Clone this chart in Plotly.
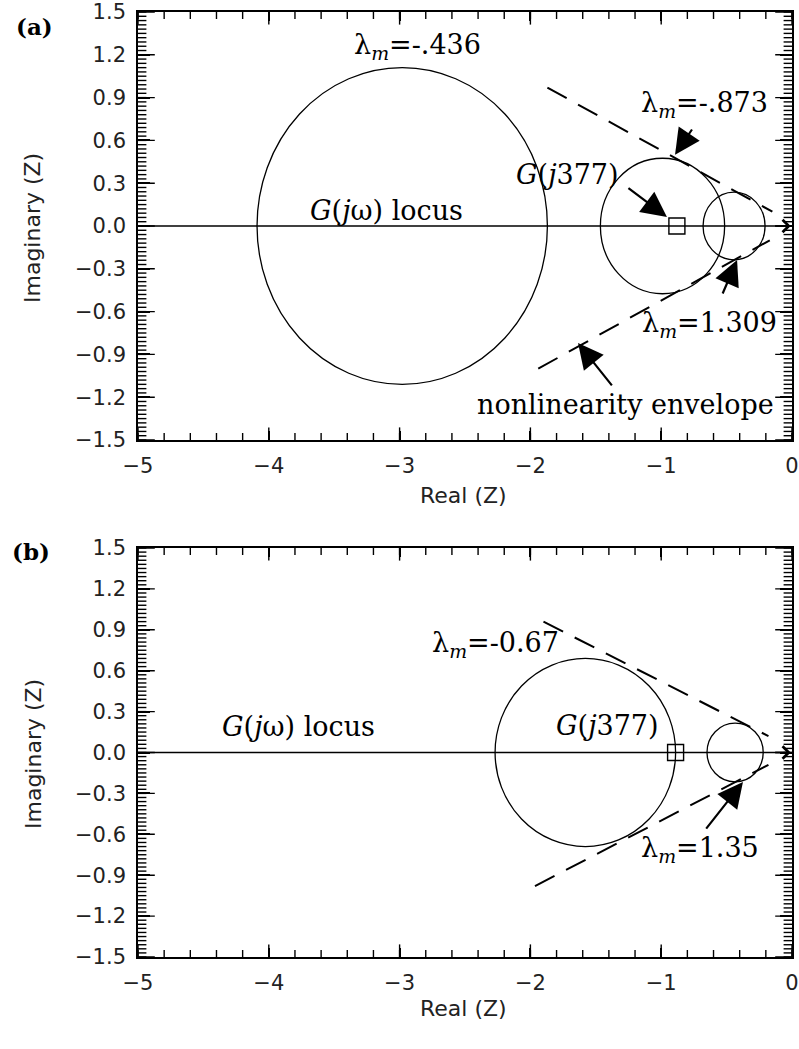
import plotly.graph_objects as go

# ---------------- data ----------------
X_RANGE = [-5, 0]
Y_RANGE = [-1.5, 1.5]
X_TICKS = [-5, -4, -3, -2, -1, 0]
Y_TICKS = [-1.5, -1.2, -0.9, -0.6, -0.3, 0.0, 0.3, 0.6, 0.9, 1.2, 1.5]
X_MINOR_STEP = 0.2
Y_MINOR_STEP = 0.03

LOCUS_X = [-5.0, -0.04]
LOCUS_Y = [0.0, 0.0]

# panel (a)
A_CIRCLE_CX = [-2.98, -0.99, -0.443]
A_CIRCLE_CY = [0.0, 0.0, 0.0]
A_CIRCLE_R = [1.11, 0.475, 0.237]
A_ENV_UP_X = [-1.87, -0.15]
A_ENV_UP_Y = [0.97, 0.10]
A_ENV_LO_X = [-1.94, -0.17]
A_ENV_LO_Y = [-1.00, -0.10]
A_G377_X = [-0.88]
A_G377_Y = [0.0]
A_LAMBDAS = ["-.436", "-.873", "1.309"]

# panel (b)
B_CIRCLE_CX = [-1.58, -0.435]
B_CIRCLE_CY = [0.0, 0.0]
B_CIRCLE_R = [0.69, 0.215]
B_ENV_UP_X = [-1.90, -0.18]
B_ENV_UP_Y = [0.96, 0.12]
B_ENV_LO_X = [-1.965, -0.18]
B_ENV_LO_Y = [-0.98, -0.09]
B_G377_X = [-0.89]
B_G377_Y = [0.0]
B_LAMBDAS = ["-0.67", "1.35"]

# minor tick positions derived from the axis ranges
X_MINOR = [round(X_RANGE[0] + X_MINOR_STEP * i, 4)
           for i in range(int(round((X_RANGE[1] - X_RANGE[0]) / X_MINOR_STEP)) + 1)]
Y_MINOR = [round(Y_RANGE[0] + Y_MINOR_STEP * i, 4)
           for i in range(int(round((Y_RANGE[1] - Y_RANGE[0]) / Y_MINOR_STEP)) + 1)]

# ---------------- styling ----------------
TICK_FONT = dict(family="DejaVu Sans", size=21, color="#222")
TITLE_FONT = dict(family="DejaVu Sans", size=22, color="#222")
SERIF = dict(family="DejaVu Serif", size=27, color="black")

fig = go.Figure()

def tick_marks(xa, ya):
    # inward tick marks on all four sides (half of each marker is clipped by the frame)
    specs = [
        (X_TICKS, "line-ns-open", 18, "x"),
        (X_MINOR, "line-ns-open", 10, "x"),
        (Y_TICKS, "line-ew-open", 24, "y"),
        (Y_MINOR, "line-ew-open", 12, "y"),
    ]
    for vals, sym, size, kind in specs:
        for edge in (0, 1):
            if kind == "x":
                xs = vals
                ys = [Y_RANGE[edge]] * len(vals)
            else:
                xs = [X_RANGE[edge]] * len(vals)
                ys = vals
            fig.add_trace(go.Scatter(x=xs, y=ys, mode="markers", cliponaxis=True,
                                     marker=dict(symbol=sym, size=size, color="black",
                                                 line=dict(width=1.4, color="black")),
                                     xaxis=xa, yaxis=ya, showlegend=False,
                                     hoverinfo="skip"))

def add_panel(xa, ya, cxs, cys, rs, upx, upy, lox, loy, gx, gy):
    fig.add_trace(go.Scatter(x=LOCUS_X, y=LOCUS_Y, mode="lines",
                             line=dict(color="black", width=1.6),
                             xaxis=xa, yaxis=ya, showlegend=False, hoverinfo="skip"))
    for ex, ey in ((upx, upy), (lox, loy)):
        fig.add_trace(go.Scatter(x=ex, y=ey, mode="lines",
                                 line=dict(color="black", width=2, dash="22px,13px"),
                                 xaxis=xa, yaxis=ya, showlegend=False, hoverinfo="skip"))
    fig.add_trace(go.Scatter(x=gx, y=gy, mode="markers",
                             marker=dict(symbol="square-open", size=16,
                                         color="black", line=dict(width=1.4, color="black")),
                             xaxis=xa, yaxis=ya, showlegend=False, hoverinfo="skip"))
    tick_marks(xa, ya)
    xr = "x" if xa == "x" else "x2"
    yr = "y" if ya == "y" else "y2"
    for cx, cy, r in zip(cxs, cys, rs):
        fig.add_shape(type="circle", xref=xr, yref=yr, layer="below",
                      x0=cx - r, x1=cx + r, y0=cy - r, y1=cy + r,
                      line=dict(color="black", width=1.3))
    # arrow at end of locus
    fig.add_annotation(x=LOCUS_X[1] + 0.03, y=0, ax=LOCUS_X[1] - 0.1, ay=0,
                       xref=xr, yref=yr, axref=xr, ayref=yr, text="",
                       showarrow=True, arrowhead=4, arrowsize=1.6, arrowwidth=1.5,
                       arrowcolor="black")

add_panel("x", "y", A_CIRCLE_CX, A_CIRCLE_CY, A_CIRCLE_R,
          A_ENV_UP_X, A_ENV_UP_Y, A_ENV_LO_X, A_ENV_LO_Y, A_G377_X, A_G377_Y)
add_panel("x2", "y2", B_CIRCLE_CX, B_CIRCLE_CY, B_CIRCLE_R,
          B_ENV_UP_X, B_ENV_UP_Y, B_ENV_LO_X, B_ENV_LO_Y, B_G377_X, B_G377_Y)

def lam(v):
    return "λ<sub><i>m</i></sub>=" + v

def text(x, y, t, xr, yr):
    fig.add_annotation(x=x, y=y, xref=xr, yref=yr, text=t, showarrow=False,
                       font=SERIF, xanchor="center", yanchor="middle")

def arrow(hx, hy, tx, ty, xr, yr):
    fig.add_annotation(x=hx, y=hy, ax=tx, ay=ty, xref=xr, yref=yr, axref=xr, ayref=yr,
                       text="", showarrow=True, arrowhead=2, arrowsize=2.3,
                       arrowwidth=2.2, arrowcolor="black")

# panel (a) texts
text(-2.86, 1.26, lam(A_LAMBDAS[0]), "x", "y")
text(-0.67, 0.85, lam(A_LAMBDAS[1]), "x", "y")
text(-1.72, 0.36, "<i>G</i>(<i>j</i>377)", "x", "y")
text(-3.10, 0.11, "<i>G</i>(<i>j</i>ω) locus", "x", "y")
text(-0.63, -0.69, lam(A_LAMBDAS[2]), "x", "y")
text(-1.27, -1.25, "nonlinearity envelope", "x", "y")
arrow(-0.894, 0.50, -0.757, 0.687, "x", "y")
arrow(-0.956, 0.063, -1.262, 0.273, "x", "y")
arrow(-0.42, -0.238, -0.535, -0.484, "x", "y")
arrow(-1.636, -0.82, -1.368, -1.128, "x", "y")

# panel (b) texts
text(-2.27, 0.79, lam(B_LAMBDAS[0]), "x2", "y2")
text(-1.41, 0.20, "<i>G</i>(<i>j</i>377)", "x2", "y2")
text(-0.70, -0.71, lam(B_LAMBDAS[1]), "x2", "y2")
text(-3.77, 0.19, "<i>G</i>(<i>j</i>ω) locus", "x2", "y2")
arrow(-0.375, -0.216, -0.665, -0.569, "x2", "y2")

# axis titles and panel labels
W, H = 799, 1049
def paper_text(px, py, t, font, angle=0):
    fig.add_annotation(x=px / W, y=1 - py / H, xref="paper", yref="paper", text=t,
                       showarrow=False, font=font, textangle=angle,
                       xanchor="center", yanchor="middle")

paper_text(33, 228, "Imaginary (Z)", TITLE_FONT, -90)
paper_text(33, 754, "Imaginary (Z)", TITLE_FONT, -90)
paper_text(464, 495, "Real (Z)", TITLE_FONT)
paper_text(464, 1008, "Real (Z)", TITLE_FONT)
paper_text(34, 27, "<b>(a)</b>", dict(family="DejaVu Serif", size=23, color="black"))
paper_text(31, 552, "<b>(b)</b>", dict(family="DejaVu Serif", size=23, color="black"))

def xaxis(domain, anchor):
    return dict(domain=domain, anchor=anchor, range=X_RANGE, automargin=False,
                tickmode="array", tickvals=X_TICKS,
                ticks="inside", ticklen=9, tickwidth=1.6, tickcolor="black",
                showline=True, linecolor="black", linewidth=1.6, mirror="allticks",
                showgrid=False, zeroline=False, tickfont=TICK_FONT,
                ticklabelstandoff=6)

def yaxis(domain, anchor):
    return dict(domain=domain, anchor=anchor, range=Y_RANGE, automargin=False,
                tickmode="array", tickvals=Y_TICKS,
                tickformat=".1f",
                ticks="inside", ticklen=12, tickwidth=1.6, tickcolor="black",
                showline=True, linecolor="black", linewidth=1.6, mirror="allticks",
                showgrid=False, zeroline=False, tickfont=TICK_FONT,
                ticklabelstandoff=6)

fig.update_layout(
    width=W, height=H,
    margin=dict(l=0, r=0, t=0, b=0, pad=0, autoexpand=False),
    paper_bgcolor="white", plot_bgcolor="white",
    showlegend=False,
    xaxis=xaxis([138 / W, 792 / W], "y"),
    yaxis=yaxis([1 - 440 / H, 1 - 12 / H], "x"),
    xaxis2=xaxis([138 / W, 792 / W], "y2"),
    yaxis2=yaxis([1 - 957 / H, 1 - 548 / H], "x2"),
)

fig.write_html("out.html")
